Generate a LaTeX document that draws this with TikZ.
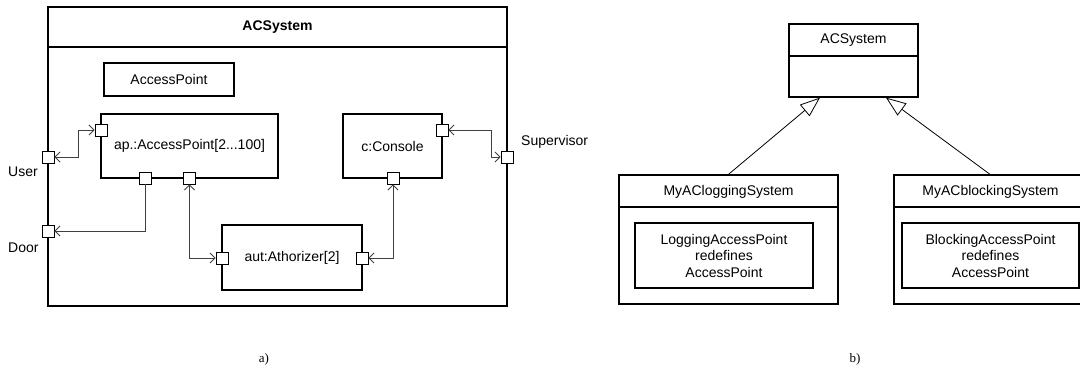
\documentclass[tikz,border=0pt]{standalone}
\usepackage{fontspec}
\setmainfont{Liberation Sans}
\newfontfamily\capfont{Liberation Serif}
\usetikzlibrary{arrows.meta}
\begin{document}
\begin{tikzpicture}[x=1pt,y=-1pt,
  txt/.style={font=\fontsize{14}{16.5}\selectfont, inner sep=0pt, align=center},
  sysframe/.style={draw, line width=1.2pt},
  box/.style={draw, line width=1.3pt, inner sep=0pt},
  part/.style={draw, line width=1.7pt, inner sep=0pt, font=\fontsize{14}{16.5}\selectfont},
  port/.style={draw, fill=white, line width=0.9pt, minimum size=12pt, inner sep=0pt},
  conn/.style={draw=black!75, line width=0.9pt},
  tip/.tip={Straight Barb[length=5pt,width=10pt,line width=0.9pt]},
  gen/.style={draw, line width=0.8pt, -{Triangle[open,length=20pt,width=15pt,fill=white]}},
  captxt/.style={font=\capfont\fontsize{13}{15}\selectfont, inner sep=0pt}]
\useasboundingbox (0,0) rectangle (1080,369);
\clip (0,0) rectangle (1080,369);

% ---------------- a) ----------------
\node[sysframe, minimum width=459pt, minimum height=299pt] (sys) at (277.5,156.5) {};
\draw[sysframe] (sys.west |- 0,47) -- (sys.east |- 0,47);
\node[txt, font=\fontsize{14}{16.5}\selectfont\bfseries] (systitle) at (277.5,27) {ACSystem};

\node[box, minimum width=130pt, minimum height=33pt, txt] (apt) at (169,79.5) {AccessPoint};
\node[part, minimum width=177pt, minimum height=64pt] (ap) at (189.5,146) {ap.:AccessPoint[2...100]};
\node[part, minimum width=99pt, minimum height=64pt] (con) at (392.5,146) {c:Console};
\node[part, minimum width=140pt, minimum height=65pt] (aut) at (292,257.5) {aut:Athorizer[2]};

\node[port] (pU) at (48,157) {};
\node[port] (pD) at (48,231) {};
\node[port] (pS) at (507,157) {};
\node[port] (pA1) at (101,130) {};
\node[port] (pA2) at (145.5,178) {};
\node[port] (pA3) at (189.5,178) {};
\node[port] (pC1) at (442,130) {};
\node[port] (pC2) at (393,178) {};
\node[port] (pT1) at (222,258) {};
\node[port] (pT2) at (362,258) {};

\node[txt, anchor=west] (lU) at (8,172) {User};
\node[txt, anchor=west] (lD) at (8,248) {Door};
\node[txt, anchor=west] (lS) at (521,142) {Supervisor};

\draw[conn, tip-tip] (pU.east) -- ++(24,0) |- (pA1.west);
\draw[conn, -tip] (pA2.south) |- (pD.east);
\draw[conn, tip-tip] (pA3.south) |- (pT1.west);
\draw[conn, tip-tip] (pC2.south) |- (pT2.east);
\draw[conn, tip-tip] (pC1.east) -- ++(43,0) |- (pS.west);

% ---------------- b) ----------------
\node[box, minimum width=129pt, minimum height=73pt] (acs) at (853.5,60.5) {};
\draw[box] (acs.west |- 0,56) -- (acs.east |- 0,56);
\node[txt] (acst) at (853.5,40) {ACSystem};

\node[box, minimum width=219pt, minimum height=129pt] (log) at (728.5,239.5) {};
\draw[box] (log.west |- 0,207) -- (log.east |- 0,207);
\node[txt] (logt) at (728.5,191.5) {MyACloggingSystem};
\node[box, minimum width=178pt, minimum height=65pt, txt] (logi) at (724,255.5) {LoggingAccessPoint\\redefines\\AccessPoint};

\node[box, minimum width=192pt, minimum height=129pt] (blk) at (990,239.5) {};
\draw[box] (blk.west |- 0,207) -- (blk.east |- 0,207);
\node[txt] (blkt) at (990.5,191.5) {MyACblockingSystem};
\node[box, minimum width=177pt, minimum height=65pt, txt] (blki) at (990.5,255.5) {BlockingAccessPoint\\redefines\\AccessPoint};

\draw[gen] (log.north) -- (acs.south -| 820,0);
\draw[gen] (blk.north) -- (acs.south -| 886,0);

% captions
\node[captxt] (ca) at (264,359) {a)};
\node[captxt] (cb) at (855,359) {b)};
\end{tikzpicture}
\end{document}
